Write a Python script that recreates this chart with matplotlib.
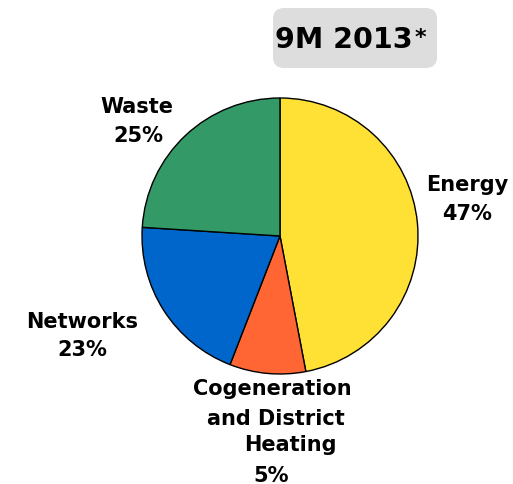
import matplotlib.pyplot as plt
from matplotlib.patches import FancyBboxPatch

# slice shares (clockwise from top)
segments = ['Energy', 'Cogeneration\nand District\nHeating', 'Networks', 'Waste']
shares = [47.0, 8.9, 20.1, 24.0]
pct_labels = ['47%', '5%', '23%', '25%']
colors = ['#FFE135', '#FF6633', '#0066CC', '#339966']

W, H = 513, 485
fig = plt.figure(figsize=(W / 100, H / 100), dpi=100)

cx, cy, r = 280, 237, 138
ax = fig.add_axes([(cx - r) / W, (H - cy - r) / H, 2 * r / W, 2 * r / H])
ax.pie(shares, colors=colors, startangle=90, counterclock=False,
       wedgeprops=dict(edgecolor='black', linewidth=1))
ax.set_xlim(-1, 1)
ax.set_ylim(-1, 1)
ax.set_aspect('auto')
ax.axis('off')

def px(x, y):
    return x / W, 1 - y / H

font = dict(fontsize=15, fontweight='bold', family='DejaVu Sans', ha='center', va='center')

fig.text(*px(467, 185), 'Energy', **font)
fig.text(*px(467, 214), pct_labels[0], **font)
fig.text(*px(137, 107), 'Waste', **font)
fig.text(*px(138, 136), pct_labels[3], **font)
fig.text(*px(82, 322), 'Networks', **font)
fig.text(*px(82, 350), pct_labels[2], **font)
fig.text(*px(272, 389), 'Cogeneration', **font)
fig.text(*px(276, 419), 'and District', **font)
fig.text(*px(290, 445), 'Heating', **font)
fig.text(*px(271, 476), pct_labels[1], **font)

# title box
box = FancyBboxPatch(px(273, 69), (437 - 273) / W, (69 - 9) / H,
                     boxstyle='round,pad=0,rounding_size=0.022',
                     transform=fig.transFigure, facecolor='#DDDDDD',
                     edgecolor='none')
fig.patches.append(box)
fig.text(*px(344, 40), '9M 2013', fontsize=20.5, fontweight='heavy',
         ha='center', va='center')
fig.text(*px(420, 38), '*', fontsize=16, fontweight='bold',
         ha='center', va='center')

fig.savefig('out.png', dpi=100)
